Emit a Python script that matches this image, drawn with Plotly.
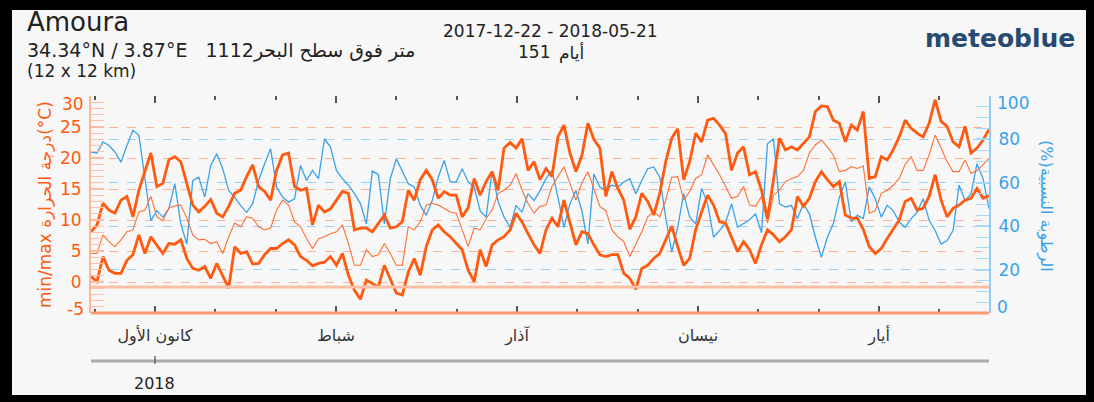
import plotly.graph_objects as go

# daily values, 2017-12-22 .. 2018-05-21 (151 days)
days = list(range(151))

temp_max = [
    8.1, 9.2, 12.7, 11.6, 11.1, 13.2, 13.8, 10.5, 14.8, 18.0,
    20.8, 15.4, 15.9, 19.7, 20.2, 19.4, 15.9, 12.4, 11.3, 12.2,
    13.3, 11.1, 10.5, 12.2, 14.3, 14.8, 17.0, 18.9, 15.4, 14.6,
    13.2, 18.0, 20.5, 20.8, 15.4, 14.8, 15.1, 9.2, 12.4, 11.3,
    11.8, 13.2, 14.6, 14.3, 8.4, 8.7, 8.7, 8.1, 9.5, 10.8,
    8.7, 8.9, 9.7, 14.8, 13.2, 16.5, 18.0, 16.5, 13.5, 14.6,
    14.0, 14.0, 10.5, 12.0, 16.7, 14.0, 16.2, 17.8, 14.8, 21.6,
    22.5, 21.6, 23.1, 18.0, 19.4, 16.5, 18.3, 17.0, 23.4, 25.3,
    20.8, 17.8, 20.4, 25.6, 23.0, 21.6, 13.8, 17.8, 15.1, 13.2,
    8.5, 10.5, 14.3, 13.0, 10.8, 14.3, 19.4, 23.2, 24.7, 16.5,
    19.4, 24.0, 22.6, 26.1, 26.4, 25.3, 23.9, 18.0, 20.8, 21.8,
    17.3, 17.8, 14.8, 10.2, 16.5, 23.2, 21.3, 21.8, 21.3, 22.4,
    23.4, 27.5, 28.4, 28.3, 26.1, 25.6, 22.6, 25.3, 24.5, 27.5,
    16.7, 17.0, 20.2, 19.7, 21.3, 23.4, 26.1, 24.8, 24.0, 23.4,
    25.6, 29.4, 25.9, 25.1, 22.6, 21.8, 25.1, 20.8, 21.6, 22.9,
    24.6,
]

temp_mean = [
    4.6, 4.6, 7.6, 6.5, 5.7, 6.8, 8.1, 8.4, 11.3, 11.6,
    13.8, 10.5, 9.9, 11.9, 12.3, 12.4, 10.3, 7.6, 6.8, 6.9,
    6.2, 6.5, 4.6, 7.3, 9.5, 8.9, 10.5, 10.3, 8.9, 8.4,
    8.7, 11.6, 13.2, 12.4, 9.7, 8.9, 7.0, 5.4, 7.0, 7.3,
    7.8, 8.1, 9.2, 6.2, 2.7, 2.7, 5.2, 4.1, 4.4, 6.2,
    4.6, 2.7, 2.7, 8.9, 8.4, 9.7, 12.4, 12.7, 12.4, 11.9,
    11.3, 11.1, 8.4, 5.7, 8.7, 8.4, 10.2, 11.6, 14.3, 14.8,
    15.6, 17.5, 14.8, 12.7, 11.1, 12.2, 12.4, 15.4, 17.0, 18.6,
    15.9, 13.2, 16.0, 17.8, 15.0, 12.2, 11.5, 8.4, 7.3, 6.5,
    4.1, 6.2, 8.1, 10.5, 11.3, 10.5, 13.2, 16.9, 17.0, 13.2,
    14.6, 16.7, 17.3, 20.5, 18.9, 17.3, 15.4, 13.5, 13.8, 15.4,
    12.4, 12.2, 13.8, 9.5, 14.0, 14.8, 16.2, 16.7, 17.0, 18.0,
    20.8, 22.1, 22.9, 21.8, 20.5, 17.8, 18.0, 18.6, 18.3, 18.7,
    11.1, 11.5, 14.3, 14.8, 15.6, 16.7, 19.0, 20.2, 18.0, 18.0,
    20.5, 23.7, 21.6, 19.4, 17.8, 17.8, 19.7, 17.5, 18.0, 18.9,
    20.0,
]

temp_min = [
    0.9, 0.05, 4.1, 1.9, 1.4, 1.4, 3.5, 4.4, 7.6, 4.6,
    7.3, 6.0, 4.6, 6.2, 6.1, 6.8, 3.8, 2.2, 1.9, 2.5,
    0.6, 3.0, 1.1, -1.0, 5.7, 4.6, 4.9, 2.9, 3.0, 4.4,
    5.4, 5.4, 6.2, 6.8, 6.0, 4.1, 3.5, 2.6, 3.0, 3.2,
    4.1, 2.7, 4.6, 1.1, -1.3, -2.8, 0.3, -0.2, -0.8, 2.7,
    0.3, -1.8, -2.1, 1.6, 3.8, 1.1, 5.7, 8.4, 9.2, 8.1,
    7.3, 6.2, 5.2, 1.9, 0.05, 5.2, 2.5, 6.0, 6.8, 7.3,
    8.4, 11.1, 9.7, 7.8, 6.0, 4.6, 8.4, 10.3, 8.9, 13.2,
    9.7, 6.0, 8.1, 7.8, 6.0, 4.4, 4.1, 4.4, 4.4, 1.4,
    0.6, -1.2, 2.2, 2.7, 3.8, 4.6, 6.8, 9.0, 5.7, 2.7,
    3.8, 8.4, 11.3, 14.0, 12.4, 9.7, 9.5, 7.3, 4.9, 6.5,
    5.2, 3.0, 6.0, 8.4, 7.6, 6.5, 7.3, 8.4, 13.8, 12.2,
    13.5, 16.2, 17.8, 16.5, 15.4, 16.2, 10.8, 10.3, 10.3, 8.5,
    5.7, 4.6, 5.4, 7.0, 8.4, 10.0, 13.0, 13.5, 11.6, 11.9,
    13.8, 17.3, 13.2, 10.5, 11.9, 12.4, 13.2, 13.5, 15.1, 13.5,
    13.9,
]

humidity = [
    74.2, 73.7, 78.8, 77.2, 74.2, 69.5, 77.2, 84.2, 81.9, 62.6,
    42.6, 47.2, 44.2, 48.1, 59.6, 41.1, 31.8, 61.1, 62.6, 53.4,
    68.0, 73.4, 66.5, 56.5, 53.4, 49.5, 46.4, 50.3, 61.1, 68.8,
    75.7, 58.0, 53.4, 51.1, 52.6, 68.0, 61.1, 65.7, 61.9, 80.3,
    76.5, 65.7, 61.9, 58.9, 55.0, 50.4, 41.1, 65.4, 63.9, 41.1,
    61.9, 71.1, 65.0, 59.6, 58.1, 49.6, 45.0, 51.8, 62.6, 70.3,
    60.4, 60.4, 66.5, 60.4, 58.1, 47.0, 44.2, 65.4, 51.4, 44.2,
    39.5, 49.6, 46.5, 55.0, 51.8, 56.4, 61.9, 65.7, 53.4, 39.5,
    50.3, 56.5, 47.0, 31.8, 64.1, 58.1, 56.5, 58.9, 58.1, 60.4,
    61.9, 55.0, 61.1, 66.5, 67.3, 62.6, 44.0, 28.1, 39.5, 55.0,
    44.2, 41.1, 57.4, 50.3, 34.9, 38.0, 41.9, 50.3, 39.5, 41.1,
    43.0, 45.7, 37.0, 78.0, 80.3, 50.3, 48.8, 49.6, 43.5, 50.3,
    45.7, 34.9, 25.7, 34.9, 41.1, 53.4, 60.4, 42.0, 45.0, 43.5,
    58.1, 52.7, 44.2, 49.6, 47.2, 41.9, 39.5, 43.5, 46.5, 52.7,
    42.7, 38.0, 31.8, 33.4, 38.0, 58.9, 51.8, 55.0, 68.8, 62.0,
    48.1,
]

month_labels = ["كانون الأول", "شباط", "آذار", "نيسان", "أيار"]
temp_ticks = [-5, 0, 5, 10, 15, 20, 25, 30]
hum_ticks = [0, 20, 40, 60, 80, 100]

# x ticks every ~10 days, every third one is a month tick
tick_pos = [0.6 + 10.08 * k for k in range(15)]
major_pos = [tick_pos[k] for k in (1, 4, 7, 10, 13)]
minor_pos = [t for k, t in enumerate(tick_pos) if k not in (1, 4, 7, 10, 13)]

ORANGE = '#ff5a0f'
BLUE = '#3aa2ea'
BG = '#f7f7f7'
FONT = 'DejaVu Sans'

# plot area in pixels
L, R, T, B = 91, 989, 96, 313


def px(x):
    return (x - L) / (R - L)


def py(y):
    return (B - y) / (B - T)


fig = go.Figure()

fig.add_trace(go.Scatter(x=days, y=humidity, mode='lines', yaxis='y',
                         line=dict(color=BLUE, width=1.3)))
fig.add_trace(go.Scatter(x=days, y=temp_mean, mode='lines', yaxis='y2',
                         line=dict(color='#ff6f33', width=1.1)))
fig.add_trace(go.Scatter(x=days, y=temp_max, mode='lines', yaxis='y2',
                         line=dict(color=ORANGE, width=2.8)))
fig.add_trace(go.Scatter(x=days, y=temp_min, mode='lines', yaxis='y2',
                         line=dict(color=ORANGE, width=2.8)))


def black_box(x0, x1, y0, y1):
    return dict(type='rect', xref='paper', yref='paper', layer='above',
                x0=px(x0), x1=px(x1), y0=py(y0), y1=py(y1),
                fillcolor='#000000', line=dict(width=0))


shapes = [
    # light card on the black paper
    dict(type='rect', xref='paper', yref='paper', layer='below',
         x0=px(12), x1=px(1086), y0=py(10), y1=py(395),
         fillcolor=BG, line=dict(width=0)),
    # black frame round the picture
    black_box(-2, 1096, -2, 10),
    black_box(-2, 12, -2, 404),
    black_box(-2, 1096, 395, 404),
    black_box(1086, 1096, -2, 404),
    # frost line
    dict(type='line', xref='paper', yref='y2', x0=0, x1=1, y0=-0.8, y1=-0.8,
         line=dict(color='#ffbfa6', width=3)),
    # bottom border
    dict(type='line', xref='paper', yref='paper', x0=0, x1=1, y0=0, y1=0,
         line=dict(color='#ff9a72', width=3)),
    # year axis
    dict(type='line', xref='paper', yref='paper', x0=0, x1=1, y0=py(361), y1=py(361),
         line=dict(color='#aaaaaa', width=3)),
    dict(type='line', xref='x', yref='paper', x0=major_pos[0], x1=major_pos[0],
         y0=py(356), y1=py(364), line=dict(color='#666666', width=1.5)),
]

annotations = [
    dict(text='Amoura', x=px(25), y=py(22), font=dict(size=26, color='#222222')),
    dict(text='34.34°N / 3.87°E   1112متر فوق سطح البحر', x=px(25), y=py(50),
         font=dict(size=19, color='#222222')),
    dict(text='(12 x 12 km)', x=px(25), y=py(71), font=dict(size=17, color='#222222')),
    dict(text='2017-12-22 - 2018-05-21', x=px(550), y=py(31), xanchor='center',
         font=dict(size=17, color='#222222')),
    dict(text='151', x=px(552), y=py(52), xanchor='right',
         font=dict(size=17, color='#222222')),
    dict(text='أيام', x=px(557), y=py(52), xanchor='left',
         font=dict(size=17, color='#222222')),
    dict(text='<b>meteoblue</b>', x=px(1077), y=py(38), xanchor='right',
         font=dict(size=25, color='#264a70')),
    dict(text='min/max درجة الحرارة(°C)', x=px(45), y=py(205), xanchor='center',
         textangle=-90, font=dict(size=17, color=ORANGE)),
    dict(text='(%)الرطوبة النسبية', x=px(1046), y=py(206), xanchor='center',
         textangle=90, font=dict(size=16, color=BLUE)),
    dict(text='2018', x=major_pos[0], xref='x', y=py(383), xanchor='center',
         font=dict(size=16, color='#222222')),
    # end labels of the y axes sit inside the plot height
    dict(text='30', x=px(86), y=py(104), xanchor='right', font=dict(size=17, color=ORANGE)),
    dict(text='-5', x=px(86), y=py(309), xanchor='right', font=dict(size=17, color=ORANGE)),
    dict(text='100', x=px(995), y=py(103), font=dict(size=17, color=BLUE)),
    dict(text='0', x=px(995), y=py(307), font=dict(size=17, color=BLUE)),
]
for a in annotations:
    a.setdefault('xref', 'paper')
    a.setdefault('yref', 'paper')
    a.setdefault('xanchor', 'left')
    a.setdefault('yanchor', 'middle')
    a['showarrow'] = False

temp_text = ['' if v in (-5, 30) else str(v) for v in temp_ticks]
hum_text = ['' if v in (0, 100) else str(v) for v in hum_ticks]

fig.update_layout(
    width=1094, height=402,
    margin=dict(l=L, r=1094 - R, t=T, b=402 - B),
    paper_bgcolor='#000000',
    plot_bgcolor=BG,
    showlegend=False,
    font=dict(family=FONT),
    xaxis=dict(
        range=[0, 150], showgrid=False, zeroline=False, showline=False,
        tickmode='array', tickvals=major_pos, ticktext=month_labels,
        ticks='inside', ticklen=7, tickwidth=2, tickcolor='#555555', mirror='ticks',
        minor=dict(tickmode='array', tickvals=minor_pos, ticks='inside',
                   ticklen=4, tickwidth=1.5, tickcolor='#555555'),
        tickfont=dict(size=16, color='#333333'), ticklabelstandoff=11,
    ),
    yaxis=dict(
        range=[0, 100], side='right', tickmode='array', tickvals=hum_ticks, ticktext=hum_text,
        ticks='inside', ticklen=13, tickcolor='#a9d8f6', tickwidth=1.5,
        minor=dict(dtick=5, ticks='inside', ticklen=13, tickcolor='#a9d8f6', tickwidth=1),
        showline=True, linecolor='#93cdf3', linewidth=2,
        showgrid=True, gridcolor='#9ad0f3', griddash='dash', gridwidth=1,
        zeroline=False, tickfont=dict(size=17, color=BLUE), ticklabelstandoff=4,
    ),
    yaxis2=dict(
        range=[-5, 30], overlaying='y', side='left', tickmode='array',
        tickvals=temp_ticks, ticktext=temp_text,
        ticks='inside', ticklen=13, tickcolor='#ffbba0', tickwidth=1.5,
        minor=dict(dtick=1, ticks='inside', ticklen=13, tickcolor='#ffc3aa', tickwidth=1),
        showline=True, linecolor='#ffb595', linewidth=2,
        showgrid=True, gridcolor='#ffb294', griddash='dash', gridwidth=1,
        zeroline=False, tickfont=dict(size=17, color=ORANGE), ticklabelstandoff=4,
    ),
    shapes=shapes,
    annotations=annotations,
)

fig.write_html("out.html", config={'displayModeBar': False},
               post_script="document.body.style.margin='0px';")
